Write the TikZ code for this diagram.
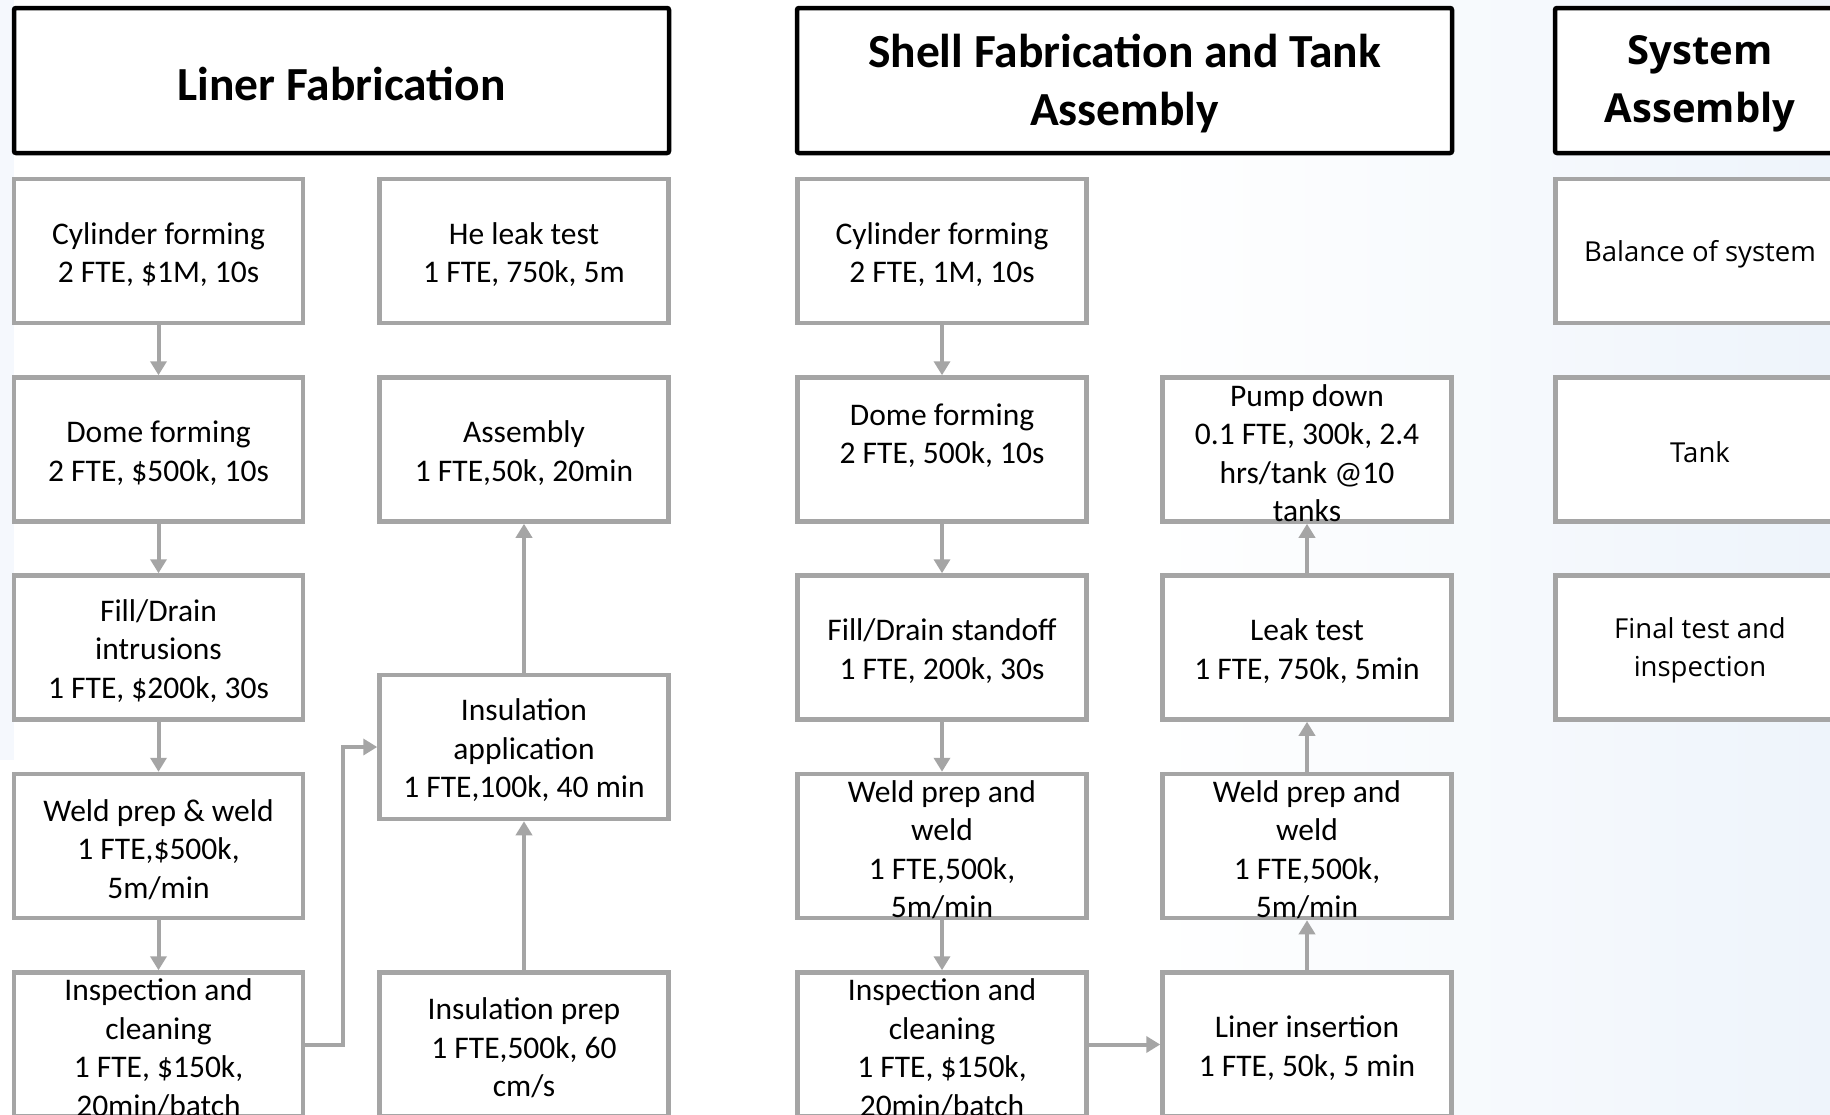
\documentclass[tikz,border=0pt]{standalone}
\usepackage{fontspec}
\setmainfont{Carlito}
\newfontfamily\osans{Open Sans}
\usetikzlibrary{arrows.meta}
\definecolor{boxgray}{HTML}{A5A5A5}
\definecolor{bgblue}{HTML}{EEF4FB}
\newcommand\bodyf{\fontsize{31.5}{38.5}\selectfont}
\newcommand\headf{\bfseries\fontsize{47.5}{58}\selectfont}
\newcommand\sysbodyf{\osans\fontsize{27.5}{38.5}\selectfont}
\newcommand\sysheadf{\osans\bfseries\fontsize{40}{58}\selectfont}
\tikzset{
  procbox/.style={draw=boxgray, line width=4.5pt, fill=white, minimum width=289pt, minimum height=144pt, inner sep=0pt},
  headbox/.style={draw=black, line width=4.5pt, fill=white, rounded corners=2pt, minimum height=145pt, inner sep=0pt},
  txt/.style={align=center, font=\bodyf, inner sep=0pt, text=black, yshift=-3.5pt},
  systxt/.style={align=center, font=\sysbodyf, inner sep=0pt, text=black, yshift=-3pt},
  arr/.style={draw=boxgray, line width=4pt, -{Triangle[length=14pt,width=16pt]}}
}
\begin{document}
\begin{tikzpicture}[x=1pt, y=-1pt]
\useasboundingbox (0,0) rectangle (1830,1114);
\clip (0,0) rectangle (1830,1114);
\fill[white] (0,0) rectangle (1830,1114);
\shade[left color=white, right color=bgblue] (1150,0) rectangle (1830,1114);
\fill[bgblue!60] (0,0) rectangle (14,760);

% headers
\node[headbox, minimum width=655pt] (h1) at (341.5,80.5) {};
\node[txt, font=\headf] (h1t) at (h1.center) {Liner Fabrication};
\node[headbox, minimum width=655pt] (h2) at (1124.5,80.5) {};
\node[txt, font=\headf] (h2t) at (h2.center) {Shell Fabrication and Tank\\Assembly};
\node[headbox, minimum width=290pt] (h3) at (1700,80.5) {};
\node[txt, font=\sysheadf] (h3t) at (h3.center) {System\\Assembly};

% column 1
\node[procbox] (a1) at (158.5,251) {};
\node[txt] (a1t) at (a1.center) {Cylinder forming\\2 FTE, \$1M, 10s};
\node[procbox] (a2) at (158.5,449.5) {};
\node[txt] (a2t) at (a2.center) {Dome forming\\2 FTE, \$500k, 10s};
\node[procbox] (a3) at (158.5,647.5) {};
\node[txt] (a3t) at (a3.center) {Fill/Drain\\intrusions\\1 FTE, \$200k, 30s};
\node[procbox] (a4) at (158.5,846) {};
\node[txt] (a4t) at (a4.center) {Weld prep \& weld\\1 FTE,\$500k,\\5m/min};
\node[procbox] (a5) at (158.5,1044.5) {};
\node[txt] (a5t) at (a5.center) {Inspection and\\cleaning\\1 FTE, \$150k,\\20min/batch};

% column 2
\node[procbox] (b1) at (524,251) {};
\node[txt] (b1t) at (b1.center) {He leak test\\1 FTE, 750k, 5m};
\node[procbox] (b2) at (524,449.5) {};
\node[txt] (b2t) at (b2.center) {Assembly\\1 FTE,50k, 20min};
\node[procbox] (b3) at (524,747) {};
\node[txt] (b3t) at (b3.center) {Insulation\\application\\1 FTE,100k, 40 min};
\node[procbox] (b5) at (524,1044.5) {};
\node[txt] (b5t) at (b5.center) {Insulation prep\\1 FTE,500k, 60\\cm/s};

% column 3
\node[procbox] (c1) at (942,251) {};
\node[txt] (c1t) at (c1.center) {Cylinder forming\\2 FTE, 1M, 10s};
\node[procbox] (c2) at (942,449.5) {};
\node[txt] (c2t) at (c2.center) {Dome forming\\2 FTE, 500k, 10s\\\mbox{}};
\node[procbox] (c3) at (942,647.5) {};
\node[txt] (c3t) at (c3.center) {Fill/Drain standoff\\1 FTE, 200k, 30s};
\node[procbox] (c4) at (942,846) {};
\node[txt] (c4t) at (c4.center) {Weld prep and\\weld\\1 FTE,500k,\\5m/min};
\node[procbox] (c5) at (942,1044.5) {};
\node[txt] (c5t) at (c5.center) {Inspection and\\cleaning\\1 FTE, \$150k,\\20min/batch};

% column 4
\node[procbox] (d2) at (1307,449.5) {};
\node[txt] (d2t) at (d2.center) {Pump down\\0.1 FTE, 300k, 2.4\\hrs/tank @10\\tanks};
\node[procbox] (d3) at (1307,647.5) {};
\node[txt] (d3t) at (d3.center) {Leak test\\1 FTE, 750k, 5min};
\node[procbox] (d4) at (1307,846) {};
\node[txt] (d4t) at (d4.center) {Weld prep and\\weld\\1 FTE,500k,\\5m/min};
\node[procbox] (d5) at (1307,1044.5) {};
\node[txt] (d5t) at (d5.center) {Liner insertion\\1 FTE, 50k, 5 min};

% column 5
\node[procbox] (e1) at (1700,251) {};
\node[systxt] (e1t) at (e1.center) {Balance of system};
\node[procbox] (e2) at (1700,449.5) {};
\node[systxt] (e2t) at (e2.center) {Tank};
\node[procbox] (e3) at (1700,647.5) {};
\node[systxt] (e3t) at (e3.center) {Final test and\\inspection};

% connectors
\draw[arr] (a1) -- (a2);
\draw[arr] (a2) -- (a3);
\draw[arr] (a3) -- (a4);
\draw[arr] (a4) -- (a5);
\draw[arr] (a5.east) -- ++(38,0) |- (b3.west);
\draw[arr] (b5) -- (b3);
\draw[arr] (b3) -- (b2);
\draw[arr] (c1) -- (c2);
\draw[arr] (c2) -- (c3);
\draw[arr] (c3) -- (c4);
\draw[arr] (c4) -- (c5);
\draw[arr] (c5) -- (d5);
\draw[arr] (d5) -- (d4);
\draw[arr] (d4) -- (d3);
\draw[arr] (d3) -- (d2);
\end{tikzpicture}
\end{document}
